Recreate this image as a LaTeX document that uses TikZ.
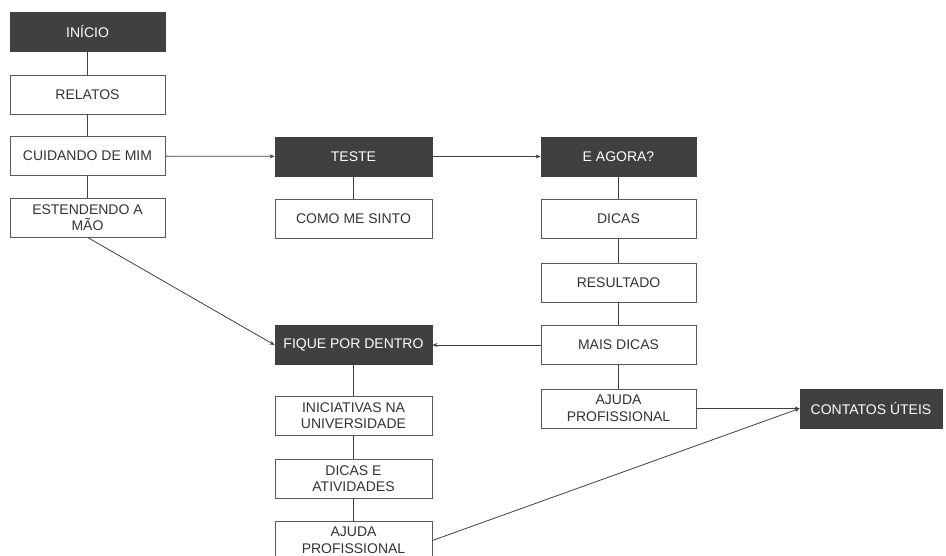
\documentclass[tikz,border=0pt]{standalone}
\usepackage{fontspec}
\setmainfont{Liberation Sans}
\usetikzlibrary{arrows.meta}
\definecolor{escuro}{HTML}{404040}
\definecolor{texto}{HTML}{333333}
\begin{document}
\begin{tikzpicture}[x=1pt,y=-1pt,
    caixa/.style={draw=black!65,line width=0.8pt,fill=white,text=texto,minimum width=155pt,minimum height=39pt,align=center,inner sep=1pt,font=\fontsize{14}{16.5}\selectfont},
    escura/.style={caixa,fill=escuro,draw=escuro,text=white},
    liga/.style={draw=black!75,line width=0.8pt},
    seta/.style={liga,-{Stealth[length=5pt,width=4pt]}}]
    \clip (0,0) rectangle (946,556);
    \fill[white] (0,0) rectangle (946,556);
    \node[escura] (inicio) at (87.5,31.5) {INÍCIO};
    \node[caixa] (relatos) at (87.5,94.5) {RELATOS};
    \node[caixa] (cuidando) at (87.5,156) {CUIDANDO DE MIM};
    \node[caixa] (estendendo) at (87.5,217.5) {ESTENDENDO A\\MÃO};
    \node[escura,minimum width=157pt] (teste) at (353.5,156.5) {TESTE};
    \node[caixa,minimum width=157pt] (sinto) at (353.5,219) {COMO ME SINTO};
    \node[escura] (agora) at (618.5,156.5) {E AGORA?};
    \node[caixa] (dicas) at (618.5,219) {DICAS};
    \node[caixa] (resultado) at (618.5,282.5) {RESULTADO};
    \node[caixa] (maisdicas) at (618.5,345) {MAIS DICAS};
    \node[caixa] (ajudaum) at (618.5,408.5) {AJUDA\\PROFISSIONAL};
    \node[escura,minimum width=142pt] (contatos) at (871,408.5) {CONTATOS ÚTEIS};
    \node[escura,minimum width=157pt] (fique) at (353.5,345) {FIQUE POR DENTRO};
    \node[caixa,minimum width=157pt] (iniciativas) at (353.5,415.5) {INICIATIVAS NA\\UNIVERSIDADE};
    \node[caixa,minimum width=157pt] (atividades) at (353.5,478.5) {DICAS E\\ATIVIDADES};
    \node[caixa,minimum width=157pt] (ajudadois) at (353.5,540.5) {AJUDA\\PROFISSIONAL};
    \draw[liga] (inicio) -- (relatos);
    \draw[liga] (relatos) -- (cuidando);
    \draw[liga] (cuidando) -- (estendendo);
    \draw[seta] (cuidando) -- (teste);
    \draw[liga] (teste) -- (sinto);
    \draw[seta] (teste) -- (agora);
    \draw[liga] (agora) -- (dicas);
    \draw[liga] (dicas) -- (resultado);
    \draw[liga] (resultado) -- (maisdicas);
    \draw[liga] (maisdicas) -- (ajudaum);
    \draw[seta] (maisdicas) -- (fique);
    \draw[seta] (ajudaum) -- (contatos);
    \draw[seta] (estendendo.south) -- (fique.west);
    \draw[liga] (fique) -- (iniciativas);
    \draw[liga] (iniciativas) -- (atividades);
    \draw[liga] (atividades) -- (ajudadois);
    \draw[seta] (ajudadois.east) -- (contatos.west);
\end{tikzpicture}
\end{document}
